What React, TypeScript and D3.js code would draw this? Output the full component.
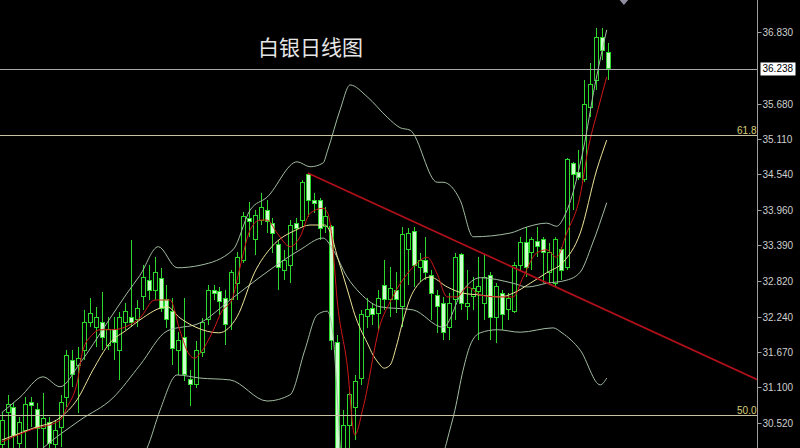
import React from "react";
import * as d3 from "d3";

const W = 800;
const H = 448;

const title = "白银日线图";

const opens = [30.17,30.69,30.77,30.20,30.41,30.85,30.75,30.44,30.53,30.17,30.46,30.94,31.54,31.46,31.70,32.15,32.07,32.14,31.78,32.04,31.70,32.15,32.22,32.19,32.56,32.83,32.67,32.86,32.51,32.33,31.69,31.90,31.22,31.14,31.67,32.19,32.67,32.64,32.54,32.51,32.78,33.15,33.83,33.48,33.80,33.96,33.75,33.40,32.99,33.07,33.75,33.80,34.53,34.12,34.12,33.69,33.69,31.82,29.93,30.49,30.77,31.25,32.25,32.38,32.30,32.75,32.51,32.67,32.40,33.32,33.61,33.04,33.15,32.91,32.59,32.46,32.07,32.51,33.24,32.40,32.56,32.65,32.46,32.91,32.22,32.62,32.35,32.32,33.07,33.43,33.27,33.45,33.48,32.96,32.78,33.32,33.04,34.72,34.56,34.45,35.62,36.06,36.75,36.51];
const closes = [30.57,30.82,30.33,30.53,30.83,30.80,30.44,30.60,30.20,30.41,30.85,31.62,31.30,31.57,32.14,32.30,32.22,31.91,32.04,31.83,32.22,32.32,32.14,32.38,32.88,32.67,32.95,32.38,32.19,31.73,31.86,31.30,31.14,31.69,32.15,32.67,32.61,32.48,32.11,32.95,33.20,33.85,33.77,33.88,34.00,33.77,33.59,33.03,33.15,33.72,33.67,34.40,34.12,34.07,33.67,33.85,31.85,29.77,30.49,30.98,31.20,32.27,32.35,32.27,32.54,32.51,32.70,32.51,33.56,33.59,33.07,33.15,32.95,32.62,32.40,31.99,32.46,33.20,32.46,32.46,32.70,32.72,32.88,32.22,32.72,32.27,32.54,33.07,33.43,33.04,33.48,33.37,33.27,33.27,33.48,32.99,34.77,34.53,34.49,35.66,35.98,36.75,36.54,36.238];
const highs = [30.70,30.98,30.85,30.62,30.94,30.94,30.85,31.01,30.62,30.57,30.98,31.70,31.70,31.75,32.35,32.54,32.40,32.64,32.24,32.24,32.32,32.46,33.48,32.51,33.07,33.07,33.20,33.03,32.75,32.54,31.99,32.54,31.38,31.85,32.22,32.75,32.75,32.72,32.67,32.99,33.28,33.93,34.09,33.96,34.24,34.12,33.83,33.48,33.32,33.80,33.83,34.45,34.56,34.24,34.16,34.01,33.72,31.94,30.73,31.03,31.30,32.35,32.54,32.46,32.67,33.15,33.04,32.96,33.69,33.67,33.69,33.27,33.53,32.99,32.67,32.56,32.62,33.27,33.27,32.99,32.88,33.20,33.24,32.96,32.78,32.67,32.62,33.12,33.53,33.69,33.53,33.69,33.53,33.43,33.53,33.37,34.80,34.74,34.93,36.06,36.33,36.90,36.90,36.66];
const lows = [30.06,30.12,30.12,30.09,30.12,30.46,30.09,30.09,30.09,30.06,30.14,30.78,31.11,30.69,31.54,32.07,31.75,31.70,31.70,31.54,31.22,32.03,32.07,32.07,32.35,32.51,32.51,32.32,32.06,31.46,31.30,31.20,30.80,31.09,31.59,32.11,32.51,32.27,31.78,32.03,32.51,33.11,33.53,33.24,33.72,33.59,33.27,32.67,32.83,32.78,33.32,33.69,33.85,33.91,33.48,33.59,31.70,29.60,29.69,29.91,30.25,31.14,32.06,32.11,32.03,32.35,32.24,32.30,32.07,32.75,32.72,32.80,32.83,32.19,31.98,31.86,31.86,32.19,32.35,32.19,32.35,31.86,32.19,31.86,31.82,32.03,32.19,32.30,32.99,32.88,32.99,33.20,32.78,32.78,32.72,32.83,32.99,33.96,34.45,34.41,35.46,35.90,36.38,36.06];

// Moving averages and Bollinger bands: [bar index, price]
const ma5Red = [[0,30.22],[4.8,30.41],[9.9,30.57],[11.1,30.78],[12.8,31.17],[13.8,31.70],[15.3,31.94],[16.7,32.03],[18.9,32.03],[21.8,32.11],[23.5,32.22],[26.0,32.51],[28.6,32.51],[30.3,32.01],[31.5,31.69],[32.8,31.57],[33.7,31.65],[35.9,32.01],[37.4,32.33],[39.1,32.51],[40.5,33.04],[42.2,33.64],[43.9,33.80],[45.1,33.80],[46.8,33.59],[49.0,33.37],[50.7,33.53],[52.4,33.91],[54.6,33.99],[55.4,33.91],[56.1,33.53],[57.0,32.51],[58.7,31.46],[60.0,30.33],[61.4,30.77],[64.3,32.11],[66.0,32.48],[67.7,32.77],[69.9,33.04],[72.3,33.20],[73.9,32.95],[75.7,32.56],[77.4,32.56],[79.1,32.72],[81.3,32.59],[84.2,32.56],[86.9,32.56],[88.6,32.88],[90.9,33.27],[92.6,33.32],[94.3,33.20],[96.0,33.59],[98.3,34.20],[99.6,34.93],[101.3,35.58],[102.8,36.11]];
const ma10Yellow = [[0,30.25],[5.3,30.44],[9.9,30.61],[12.8,30.90],[15.5,31.38],[18.4,31.82],[21.3,32.03],[23.5,32.19],[28.1,32.40],[30.3,32.22],[33.0,32.07],[36.9,31.98],[40.0,32.24],[43.0,32.96],[45.9,33.37],[50.0,33.64],[52.4,33.72],[54.9,33.72],[56.0,33.56],[57.0,33.22],[58.0,32.91],[59.0,32.59],[60.0,32.27],[61.0,32.03],[62.1,31.82],[63.1,31.62],[63.9,31.51],[65.0,31.41],[66.0,31.46],[67.0,31.74],[68.0,32.11],[69.9,32.64],[72.8,32.88],[75.7,32.72],[78.4,32.62],[81.3,32.59],[84.7,32.56],[86.9,32.62],[89.8,32.78],[92.6,32.95],[95.4,33.12],[98.3,33.59],[101.1,34.61],[102.8,35.09]];
const bandMiddle = [[3.1,29.77],[7.0,30.12],[13.3,30.57],[18.9,30.93],[23.5,31.46],[28.1,32.01],[33.7,32.14],[38.8,32.51],[43.9,32.88],[50.7,33.32],[54.6,33.51],[56.3,33.32],[58.7,32.88],[60.9,32.62],[64.3,32.40],[69.9,32.35],[75.0,32.07],[78.4,32.67],[81.3,32.87],[86.9,32.78],[89.3,32.72],[92.6,32.78],[96.0,32.83],[98.3,32.96],[100.3,33.40],[102.8,34.08]];
const bandUpper = [[0,30.69],[3.1,30.94],[7.0,31.27],[9.9,31.11],[13.3,31.49],[17.9,32.14],[21.3,32.62],[23.5,32.91],[26.6,33.37],[29.8,33.03],[33.7,33.07],[39.3,33.32],[42.2,33.96],[45.1,34.17],[50.2,34.74],[52.4,34.66],[54.6,34.72],[55.4,34.93],[57.5,35.58],[59.2,35.98],[62.1,35.79],[65.5,35.46],[67.7,35.29],[69.4,35.25],[74.0,34.41],[75.0,34.41],[77.9,34.12],[80.1,33.53],[86.4,33.59],[89.3,33.69],[92.6,33.75],[94.3,33.70],[95.7,33.88],[98.8,34.93],[100.8,35.98],[102.8,36.87]];
const bandLower = [[21.8,29.77],[24.7,30.12],[26.9,30.73],[29.8,31.30],[33.7,31.25],[38.8,31.22],[45.1,30.88],[49.0,30.98],[51.5,31.70],[53.6,32.27],[55.3,32.33],[56.3,31.94],[57.5,30.12],[58.7,28.31],[72.8,28.31],[74.5,29.77],[75.7,30.25],[77.0,30.73],[78.4,31.38],[79.6,31.78],[81.3,31.98],[84.2,32.03],[88.1,31.99],[93.7,32.06],[95.2,31.98],[98.3,31.70],[101.7,31.14],[102.8,31.25]];

const trendLine = [[52, 34.56], [128.5, 31.22]];

const axisLabels = ["36.830","35.680","35.110","34.540","33.960","33.390","32.820","32.240","31.670","31.100","30.520"];
const lastPrice = 36.238;
const fibLevels = [{ label: "61.8", price: 35.173 }, { label: "50.0", price: 30.659 }];

export default function App() {
  const plotRight = 757.5;
  const x = d3.scaleLinear().domain([0, 103]).range([1.7, 607.9]);
  const y = d3.scaleLinear().domain([36.83, 30.52]).range([32.3, 423.3]);
  const line = d3
    .line<number[]>()
    .x((d) => x(d[0]))
    .y((d) => y(d[1]))
    .curve(d3.curveMonotoneX);
  const straight = d3
    .line<number[]>()
    .x((d) => x(d[0]))
    .y((d) => y(d[1]));

  const green = "#2cd82c";
  const bearFill = "#ccffcc";
  const bandColor = "#a2bba2";

  return (
    <svg
      width={W}
      height={H}
      style={{ position: "absolute", left: 0, top: 0, background: "#000", display: "block" }}
    >
      <defs>
        <clipPath id="plot">
          <rect x={0} y={0} width={plotRight} height={H} />
        </clipPath>
      </defs>
      <rect x={0} y={0} width={W} height={H} fill="#000" />

      <text
        x={258}
        y={55}
        fill="#e6e6e6"
        fontSize={21}
        fontFamily="'Noto Sans CJK SC', sans-serif"
      >
        {title}
      </text>

      <g clipPath="url(#plot)">
        {/* candles */}
        <g shapeRendering="crispEdges">
          {opens.map((o, i) => {
            const c = closes[i];
            const cx = Math.round(x(i));
            const top = y(Math.max(o, c));
            const bot = y(Math.min(o, c));
            const bear = c < o;
            return (
              <g key={i}>
                <line x1={cx + 0.5} x2={cx + 0.5} y1={y(highs[i])} y2={y(lows[i])} stroke={green} strokeWidth={1} />
                <rect
                  x={cx - 1.5}
                  y={top}
                  width={4}
                  height={Math.max(1, bot - top)}
                  fill={bear ? bearFill : "#000"}
                  stroke={green}
                  strokeWidth={1}
                />
              </g>
            );
          })}
        </g>

        {/* indicators */}
        <path d={line(bandUpper) || ""} fill="none" stroke={bandColor} strokeWidth={1} />
        <path d={line(bandMiddle) || ""} fill="none" stroke={bandColor} strokeWidth={1} />
        <path d={line(bandLower) || ""} fill="none" stroke={bandColor} strokeWidth={1} />
        <path d={line(ma10Yellow) || ""} fill="none" stroke="#eee39a" strokeWidth={1} />
        <path d={line(ma5Red) || ""} fill="none" stroke="#d01818" strokeWidth={1} />

        {/* horizontal levels */}
        <line x1={0} x2={plotRight} y1={Math.round(y(lastPrice)) + 0.5} y2={Math.round(y(lastPrice)) + 0.5} stroke="#a8a8a8" strokeWidth={1} />
        {fibLevels.map((f) => (
          <line
            key={f.label}
            x1={0}
            x2={plotRight}
            y1={Math.round(y(f.price)) + 0.5}
            y2={Math.round(y(f.price)) + 0.5}
            stroke="#c9c2a2"
            strokeWidth={1.2}
          />
        ))}

        {/* trend line */}
        <path d={straight(trendLine) || ""} fill="none" stroke="#b0101a" strokeWidth={1.7} />
      </g>

      {fibLevels.map((f) => (
        <text
          key={"t" + f.label}
          x={plotRight - 1}
          y={Math.round(y(f.price)) - 1}
          fill="#d8cd78"
          fontSize={10}
          textAnchor="end"
          fontFamily="'Liberation Sans', Arial, sans-serif"
        >
          {f.label}
        </text>
      ))}

      {/* marker at top */}
      <polygon
        points={`${x(103) + 10},-2 ${x(103) + 22},-2 ${x(103) + 16},5`}
        fill="#8f8f9f"
      />

      {/* price axis */}
      <line x1={plotRight} x2={plotRight} y1={0} y2={H} stroke="#a0a0a0" strokeWidth={1} />
      {axisLabels.map((t) => {
        const ty = Math.round(y(+t)) + 0.5;
        return (
          <g key={t}>
            <line x1={plotRight} x2={plotRight + 4} y1={ty} y2={ty} stroke="#a0a0a0" strokeWidth={1} />
            <text
              x={plotRight + 5}
              y={ty}
              dy="0.35em"
              fill="#cfcfcf"
              fontSize={10}
              fontFamily="'Liberation Sans', Arial, sans-serif"
            >
              {t}
            </text>
          </g>
        );
      })}
      <rect x={plotRight + 3} y={y(lastPrice) - 6.5} width={35} height={13} fill="#ffffff" />
      <text
        x={plotRight + 5}
        y={y(lastPrice)}
        dy="0.35em"
        fill="#000"
        fontSize={10}
        fontFamily="'Liberation Sans', Arial, sans-serif"
      >
        {lastPrice.toFixed(3)}
      </text>
    </svg>
  );
}
